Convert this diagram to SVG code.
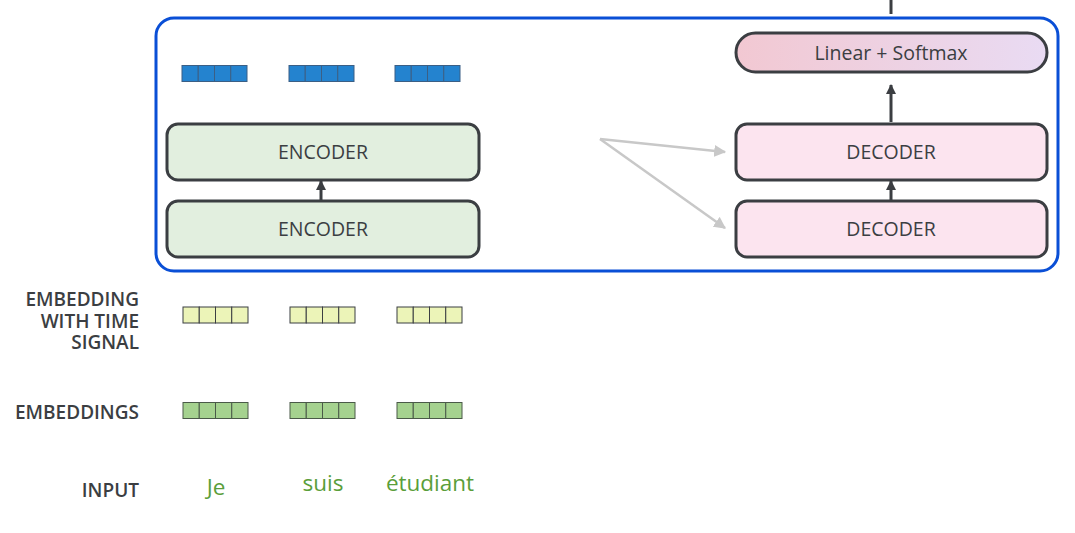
<svg xmlns="http://www.w3.org/2000/svg" width="1075" height="533" viewBox="0 0 1075 533">
<defs>
<linearGradient id="lsg" x1="0" y1="0" x2="1" y2="0">
<stop offset="0" stop-color="#f2c8d2"/>
<stop offset="1" stop-color="#e9dbf3"/>
</linearGradient>
<marker id="ah" viewBox="0 0 10 10" refX="9" refY="5" markerWidth="10" markerHeight="10" markerUnits="userSpaceOnUse" orient="auto">
<path d="M0,0 L10,5 L0,10 z" fill="#3b3e42"/>
</marker>
<marker id="gh" viewBox="0 0 10 10" refX="9" refY="5" markerWidth="12" markerHeight="12" markerUnits="userSpaceOnUse" orient="auto">
<path d="M0,0 L10,5 L0,10 z" fill="#c8c8c8"/>
</marker>
</defs>
<style>
.box{stroke:#3b3e42;stroke-width:3}
.enc{fill:#e2efdf}
.dec{fill:#fce4ef}
.lbl{font-family:"Open Sans","Liberation Sans",sans-serif;font-size:19.5px;fill:#3b3e42;text-anchor:middle;font-weight:500}
.side{font-family:"Open Sans","Liberation Sans",sans-serif;font-size:19px;fill:#3b3e42;text-anchor:end;font-weight:600}
.word{font-family:"Open Sans","Liberation Sans",sans-serif;font-size:22.5px;fill:#5a9e3a;text-anchor:middle}
.vb rect{fill:#2483cf;stroke:#3b5f85;stroke-width:1}
.vy rect{fill:#ecf4b8;stroke:#3b3e42;stroke-width:1}
.vg rect{fill:#a5d28f;stroke:#4a5a48;stroke-width:1}
.conn{stroke:#3b3e42;stroke-width:3;fill:none}
.gconn{stroke:#c8c8c8;stroke-width:2.5;fill:none}
</style>
<rect x="156" y="18" width="902" height="253" rx="18" fill="none" stroke="#0a4fd6" stroke-width="3"/>

<g id="connectors">
<line class="conn" x1="891" y1="0" x2="891" y2="14"/>
<line class="conn" x1="891" y1="122" x2="891" y2="85" marker-end="url(#ah)"/>
<line class="conn" x1="891" y1="200" x2="891" y2="181" marker-end="url(#ah)"/>
<line class="conn" x1="321" y1="200" x2="321" y2="181" marker-end="url(#ah)"/>
<line class="gconn" x1="600" y1="139" x2="725" y2="152" marker-end="url(#gh)"/>
<line class="gconn" x1="600" y1="139" x2="725" y2="228" marker-end="url(#gh)"/>
</g>

<g id="enc-out">
<g class="vb">
<rect x="182" y="65.5" width="16.25" height="16"/><rect x="198.25" y="65.5" width="16.25" height="16"/><rect x="214.5" y="65.5" width="16.25" height="16"/><rect x="230.75" y="65.5" width="16.25" height="16"/>
<rect x="289" y="65.5" width="16.25" height="16"/><rect x="305.25" y="65.5" width="16.25" height="16"/><rect x="321.5" y="65.5" width="16.25" height="16"/><rect x="337.75" y="65.5" width="16.25" height="16"/>
<rect x="395" y="65.5" width="16.25" height="16"/><rect x="411.25" y="65.5" width="16.25" height="16"/><rect x="427.5" y="65.5" width="16.25" height="16"/><rect x="443.75" y="65.5" width="16.25" height="16"/>
</g>
</g>

<g id="encoder2">
<rect class="box enc" x="167" y="124" width="312" height="56" rx="11"/>
<text class="lbl" x="323" y="159">ENCODER</text>
</g>
<g id="encoder1">
<rect class="box enc" x="167" y="201" width="312" height="56" rx="11"/>
<text class="lbl" x="323" y="236">ENCODER</text>
</g>
<g id="decoder2">
<rect class="box dec" x="736" y="124" width="311" height="56" rx="11"/>
<text class="lbl" x="891" y="158.5">DECODER</text>
</g>
<g id="decoder1">
<rect class="box dec" x="736" y="201" width="311" height="56" rx="11"/>
<text class="lbl" x="891" y="236">DECODER</text>
</g>
<g id="linear-softmax">
<rect class="box" x="736" y="33" width="311" height="39" rx="19.5" fill="url(#lsg)"/>
<text class="lbl" x="891" y="59.5">Linear + Softmax</text>
</g>

<g id="time-signal">
<text class="side" x="139" y="306">EMBEDDING</text>
<text class="side" x="139" y="327.5">WITH TIME</text>
<text class="side" x="139" y="348.5">SIGNAL</text>
<g class="vy">
<rect x="183" y="307" width="16.25" height="16"/><rect x="199.25" y="307" width="16.25" height="16"/><rect x="215.5" y="307" width="16.25" height="16"/><rect x="231.75" y="307" width="16.25" height="16"/>
<rect x="290" y="307" width="16.25" height="16"/><rect x="306.25" y="307" width="16.25" height="16"/><rect x="322.5" y="307" width="16.25" height="16"/><rect x="338.75" y="307" width="16.25" height="16"/>
<rect x="397" y="307" width="16.25" height="16"/><rect x="413.25" y="307" width="16.25" height="16"/><rect x="429.5" y="307" width="16.25" height="16"/><rect x="445.75" y="307" width="16.25" height="16"/>
</g>
</g>

<g id="embeddings">
<text class="side" x="139" y="418.5">EMBEDDINGS</text>
<g class="vg">
<rect x="183" y="402.5" width="16.25" height="16"/><rect x="199.25" y="402.5" width="16.25" height="16"/><rect x="215.5" y="402.5" width="16.25" height="16"/><rect x="231.75" y="402.5" width="16.25" height="16"/>
<rect x="290" y="402.5" width="16.25" height="16"/><rect x="306.25" y="402.5" width="16.25" height="16"/><rect x="322.5" y="402.5" width="16.25" height="16"/><rect x="338.75" y="402.5" width="16.25" height="16"/>
<rect x="397" y="402.5" width="16.25" height="16"/><rect x="413.25" y="402.5" width="16.25" height="16"/><rect x="429.5" y="402.5" width="16.25" height="16"/><rect x="445.75" y="402.5" width="16.25" height="16"/>
</g>
</g>

<g id="input">
<text class="side" x="139" y="497">INPUT</text>
<text class="word" x="216" y="495">Je</text>
<text class="word" x="323" y="491">suis</text>
<text class="word" x="430" y="491">étudiant</text>
</g>
</svg>
